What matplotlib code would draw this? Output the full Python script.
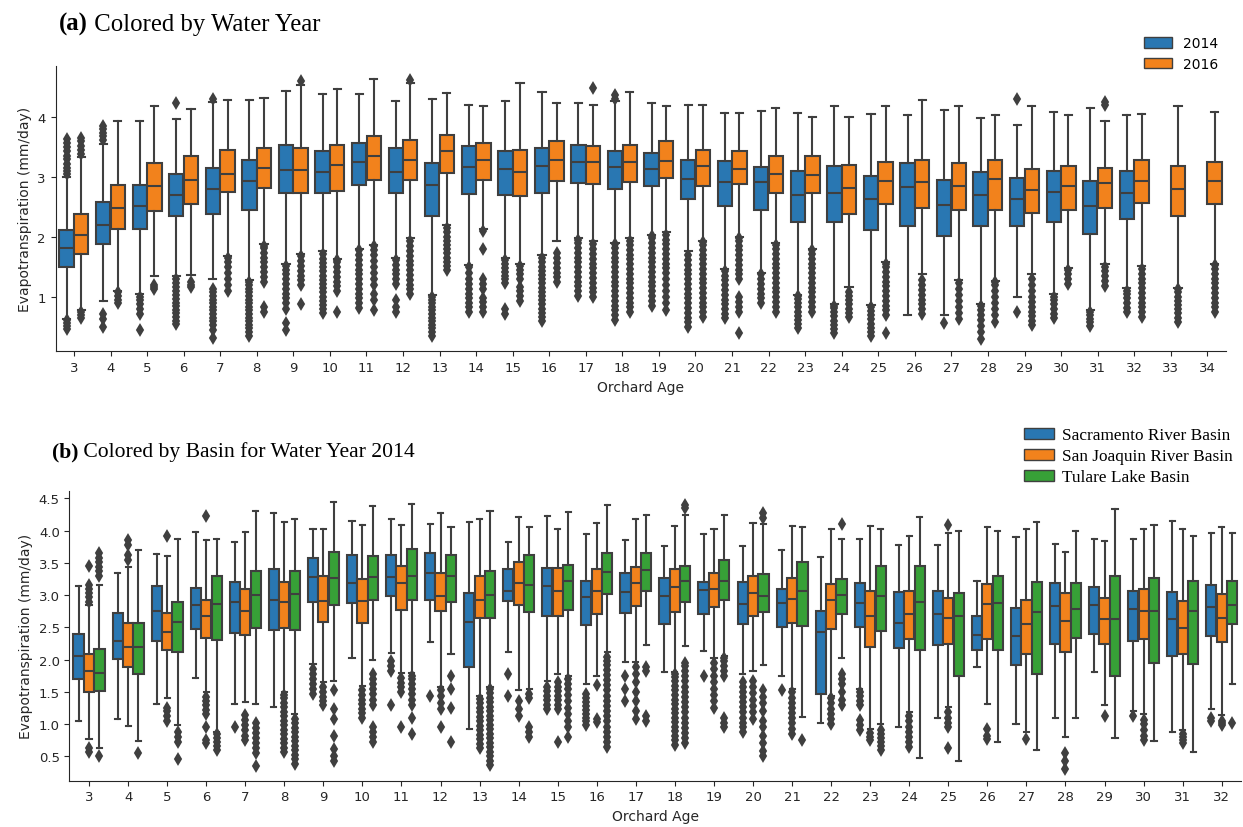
import matplotlib
matplotlib.use("Agg")
import matplotlib.pyplot as plt
from matplotlib.patches import Patch
import numpy as np

# ---------------------------------------------------------------- data
AGES_A = list(range(3, 35))
YEARS = ["2014", "2016"]

# Water year 2014 (ages 3-32, no orchards aged 33-34)
Q1_2014 = [1.51, 1.88, 2.13, 2.35, 2.38, 2.46, 2.73, 2.74, 2.87, 2.73, 2.35, 2.72, 2.70, 2.74, 2.91,
           2.80, 2.85, 2.63, 2.52, 2.46, 2.26, 2.25, 2.12, 2.19, 2.02, 2.19, 2.19, 2.26, 2.05, 2.30, None, None]
MED_2014 = [1.82, 2.20, 2.52, 2.71, 2.81, 2.94, 3.12, 3.09, 3.25, 3.09, 2.87, 3.17, 3.13, 3.18, 3.25,
            3.17, 3.14, 2.97, 2.92, 2.92, 2.71, 2.73, 2.64, 2.83, 2.53, 2.70, 2.64, 2.76, 2.52, 2.74, None, None]
Q3_2014 = [2.12, 2.59, 2.87, 3.06, 3.15, 3.29, 3.54, 3.43, 3.57, 3.48, 3.24, 3.52, 3.43, 3.48, 3.54,
           3.43, 3.40, 3.29, 3.27, 3.17, 3.10, 3.18, 3.02, 3.23, 2.96, 3.08, 2.99, 3.10, 2.94, 3.10, None, None]
WLO_2014 = [0.63, 0.94, 1.05, 1.36, 1.30, 1.28, 1.55, 1.77, 1.81, 1.66, 1.03, 1.54, 1.66, 1.70, 1.99,
            1.90, 2.04, 1.77, 1.47, 1.41, 1.04, 0.89, 0.87, 0.71, 0.71, 0.89, 1.01, 1.06, 0.78, 1.15, None, None]
WHI_2014 = [3.00, 3.55, 3.94, 3.97, 4.25, 4.29, 4.43, 4.39, 4.39, 4.27, 4.30, 4.20, 4.26, 4.41, 4.23,
            4.26, 4.24, 4.20, 4.07, 4.10, 4.07, 4.19, 4.06, 4.04, 4.12, 3.99, 3.87, 4.09, 4.16, 4.04, None, None]
FLIERS_2014 = [
    [0.47, 0.52, 0.57, 0.62, 3.05, 3.1, 3.16, 3.22, 3.3, 3.36, 3.43, 3.5, 3.57, 3.64],
    [0.50, 0.63, 0.72, 3.62, 3.68, 3.74, 3.8, 3.86],
    [0.45, 0.72, 0.8, 0.88, 0.95, 1.0],
    [0.55, 0.61, 0.67, 0.73, 0.79, 0.85, 0.91, 0.97, 1.03, 1.1, 1.17, 1.24, 1.31, 4.23],
    [0.33, 0.46, 0.54, 0.6, 0.66, 0.72, 0.78, 0.84, 0.9, 0.96, 1.02, 1.08, 1.14, 4.3],
    [0.36, 0.42, 0.48, 0.54, 0.6, 0.66, 0.72, 0.78, 0.84, 0.9, 0.96, 1.02, 1.08, 1.14, 1.2, 1.25],
    [0.46, 0.57, 0.8, 0.9, 0.98, 1.06, 1.14, 1.22, 1.3, 1.38, 1.46, 1.52],
    [0.74, 0.8, 0.87, 0.94, 1.01, 1.08, 1.15, 1.22, 1.29, 1.36, 1.43, 1.5, 1.57, 1.64, 1.72],
    [0.82, 0.9, 0.98, 1.06, 1.14, 1.22, 1.3, 1.38, 1.46, 1.54, 1.62, 1.7, 1.78],
    [0.76, 0.84, 0.95, 1.22, 1.3, 1.38, 1.46, 1.54, 1.62],
    [0.36, 0.42, 0.48, 0.54, 0.6, 0.66, 0.72, 0.78, 0.84, 0.9, 0.96, 1.0],
    [0.76, 0.83, 0.9, 0.98, 1.06, 1.14, 1.22, 1.3, 1.4, 1.5],
    [0.72, 0.8, 1.24, 1.3, 1.36, 1.42, 1.48, 1.55, 1.62],
    [0.6, 0.67, 0.74, 0.81, 0.88, 0.95, 1.02, 1.09, 1.16, 1.23, 1.3, 1.37, 1.44, 1.51, 1.58, 1.66],
    [1.02, 1.1, 1.18, 1.26, 1.34, 1.42, 1.5, 1.58, 1.66, 1.74, 1.82, 1.9, 1.96],
    [0.62, 0.7, 0.78, 0.86, 0.94, 1.02, 1.1, 1.18, 1.26, 1.34, 1.42, 1.5, 1.58, 1.66, 1.74, 1.82, 1.88, 4.3, 4.36],
    [0.86, 0.94, 1.02, 1.1, 1.18, 1.26, 1.34, 1.42, 1.5, 1.58, 1.66, 1.74, 1.82, 1.9, 1.98, 2.02],
    [0.5, 0.58, 0.66, 0.74, 0.82, 0.9, 0.98, 1.06, 1.14, 1.22, 1.3, 1.38, 1.46, 1.54, 1.62, 1.7],
    [0.65, 0.72, 0.8, 0.88, 0.96, 1.04, 1.12, 1.2, 1.28, 1.36, 1.44],
    [0.9, 0.98, 1.06, 1.14, 1.22, 1.3, 1.38],
    [0.48, 0.55, 0.62, 0.69, 0.76, 0.83, 0.9, 0.97, 1.02],
    [0.4, 0.47, 0.54, 0.61, 0.68, 0.75, 0.82, 0.86],
    [0.35, 0.42, 0.49, 0.56, 0.63, 0.7, 0.77, 0.84],
    [],
    [0.57],
    [0.3, 0.42, 0.52, 0.62, 0.7, 0.78, 0.85],
    [0.76, 4.3],
    [0.65, 0.72, 0.8, 0.88, 0.95, 1.0],
    [0.52, 0.58, 0.64, 0.7, 0.75],
    [0.75, 0.82, 0.9, 0.98, 1.05, 1.1],
    [], [],
]

# Water year 2016 (ages 3-34)
Q1_2016 = [1.72, 2.13, 2.44, 2.55, 2.76, 2.82, 2.74, 2.77, 2.96, 2.96, 3.07, 2.96, 2.69, 2.94, 2.89, 2.92,
           2.99, 2.85, 2.88, 2.74, 2.73, 2.38, 2.56, 2.49, 2.46, 2.45, 2.41, 2.46, 2.49, 2.57, 2.35, 2.56]
MED_2016 = [2.03, 2.49, 2.85, 2.95, 3.06, 3.15, 3.12, 3.20, 3.36, 3.29, 3.43, 3.29, 3.08, 3.29, 3.25, 3.25,
            3.27, 3.18, 3.14, 3.06, 3.03, 2.82, 2.94, 2.92, 2.85, 2.97, 2.78, 2.85, 2.90, 2.93, 2.81, 2.93]
Q3_2016 = [2.39, 2.87, 3.24, 3.36, 3.46, 3.48, 3.48, 3.54, 3.69, 3.62, 3.71, 3.57, 3.46, 3.61, 3.52, 3.54,
           3.60, 3.46, 3.43, 3.36, 3.36, 3.20, 3.25, 3.29, 3.24, 3.29, 3.13, 3.18, 3.15, 3.29, 3.18, 3.25]
WLO_2016 = [0.78, 1.11, 1.36, 1.37, 1.68, 1.88, 1.72, 1.64, 1.87, 1.99, 2.20, 2.13, 1.56, 1.93, 1.94, 1.98,
            2.09, 1.94, 2.01, 1.90, 1.80, 1.17, 1.58, 1.38, 1.29, 1.27, 1.38, 1.48, 1.55, 1.52, 1.15, 1.56]
WHI_2016 = [3.34, 3.94, 4.18, 4.13, 4.29, 4.31, 4.54, 4.47, 4.64, 4.56, 4.40, 4.18, 4.56, 4.23, 4.20, 4.41,
            4.18, 4.20, 4.07, 4.15, 4.01, 4.01, 4.18, 4.29, 4.18, 4.04, 4.18, 4.04, 3.93, 4.06, 4.19, 4.09]
FLIERS_2016 = [
    [0.65, 0.7, 0.75, 3.38, 3.45, 3.52, 3.6, 3.65],
    [0.9, 0.96, 1.02, 1.08],
    [1.13, 1.17, 1.21],
    [1.17, 1.21, 1.25],
    [1.1, 1.2, 1.3, 1.4, 1.5, 1.58, 1.65],
    [0.76, 0.84, 1.26, 1.34, 1.42, 1.5, 1.58, 1.66, 1.74, 1.82, 1.86],
    [0.88, 1.2, 1.28, 1.36, 1.44, 1.52, 1.6, 1.68, 4.6],
    [0.75, 1.1, 1.18, 1.26, 1.34, 1.42, 1.5, 1.58, 1.62],
    [0.78, 0.95, 1.05, 1.2, 1.3, 1.4, 1.5, 1.6, 1.7, 1.78, 1.85],
    [1.05, 1.13, 1.21, 1.29, 1.37, 1.45, 1.53, 1.61, 1.69, 1.77, 1.85, 1.93, 4.61],
    [1.45, 1.52, 1.59, 1.66, 1.73, 1.8, 1.87, 1.94, 2.01, 2.08, 2.15],
    [0.76, 0.84, 0.92, 0.98, 1.14, 1.22, 1.3, 1.81, 2.1],
    [0.94, 1.02, 1.1, 1.17, 1.3, 1.38, 1.46, 1.52],
    [1.25, 1.33, 1.41, 1.49, 1.57, 1.65, 1.73],
    [1.0, 1.08, 1.16, 1.24, 1.32, 1.4, 1.48, 1.56, 1.64, 1.72, 1.8, 1.88, 4.48],
    [0.75, 0.83, 0.91, 0.99, 1.07, 1.15, 1.23, 1.31, 1.39, 1.47, 1.55, 1.63, 1.71, 1.79, 1.87, 1.94],
    [0.78, 0.9, 1.0, 1.1, 1.2, 1.3, 1.4, 1.48, 1.56, 1.64, 1.72, 1.8, 1.88, 1.96, 2.04],
    [0.67, 0.75, 0.83, 0.91, 0.99, 1.07, 1.15, 1.23, 1.31, 1.39, 1.47, 1.55, 1.63, 1.71, 1.79, 1.87, 1.92],
    [0.4, 0.76, 0.84, 0.92, 1.0, 1.3, 1.38, 1.46, 1.54, 1.62, 1.7, 1.78, 1.86, 1.94, 1.99],
    [0.76, 0.84, 0.92, 1.0, 1.08, 1.16, 1.24, 1.32, 1.4, 1.48, 1.56, 1.64, 1.72, 1.8, 1.87],
    [0.76, 0.84, 0.92, 1.0, 1.08, 1.16, 1.24, 1.32, 1.4, 1.48, 1.56, 1.64, 1.72, 1.78],
    [0.67, 0.74, 0.81, 0.88, 0.95, 1.02, 1.08],
    [0.41, 0.7, 0.78, 0.86, 0.94, 1.02, 1.1, 1.18, 1.26, 1.34, 1.42, 1.5, 1.56],
    [0.72, 0.8, 0.88, 0.96, 1.04, 1.12, 1.2, 1.28],
    [0.64, 0.74, 0.84, 0.94, 1.04, 1.14, 1.24],
    [0.59, 0.7, 0.8, 0.9, 1.0, 1.1, 1.2, 1.26],
    [0.53, 0.6, 0.68, 0.76, 0.84, 0.92, 1.0, 1.1, 1.2, 1.3],
    [1.22, 1.3, 1.38, 1.45],
    [1.19, 1.27, 1.35, 1.43, 1.5, 4.2, 4.25],
    [0.67, 0.75, 0.83, 0.91, 0.99, 1.07, 1.15, 1.23, 1.31, 1.39, 1.47],
    [0.59, 0.66, 0.73, 0.8, 0.87, 0.94, 1.01, 1.08, 1.13],
    [0.75, 0.83, 0.91, 0.99, 1.07, 1.15, 1.23, 1.31, 1.39, 1.47, 1.54],
]

AGES_B = list(range(3, 33))
BASINS = ["Sacramento River Basin", "San Joaquin River Basin", "Tulare Lake Basin"]

Q1_SAC = [1.70, 2.01, 2.29, 2.47, 2.41, 2.46, 2.89, 2.88, 2.98, 2.93, 1.88, 2.91, 2.68, 2.53, 2.72,
          2.55, 2.71, 2.55, 2.50, 1.47, 2.50, 2.18, 2.22, 2.15, 1.91, 2.24, 2.39, 2.28, 2.05, 2.36]
MED_SAC = [2.05, 2.28, 2.76, 2.85, 2.89, 2.93, 3.28, 3.18, 3.28, 3.34, 2.58, 3.07, 3.14, 2.97, 3.05,
           2.98, 3.08, 2.86, 2.87, 2.42, 2.87, 2.56, 2.70, 2.38, 2.36, 2.83, 2.85, 2.78, 2.63, 2.82]
Q3_SAC = [2.39, 2.72, 3.14, 3.11, 3.20, 3.40, 3.57, 3.62, 3.62, 3.65, 3.04, 3.40, 3.42, 3.22, 3.35,
          3.26, 3.20, 3.20, 3.09, 2.76, 3.19, 3.05, 3.07, 2.67, 2.80, 3.18, 3.13, 3.07, 3.05, 3.16]
WLO_SAC = [1.04, 1.08, 1.31, 1.72, 1.31, 1.26, 1.93, 2.02, 2.10, 2.27, 0.92, 2.11, 1.66, 1.62, 1.96,
           1.81, 2.13, 1.78, 1.74, 1.01, 1.54, 0.96, 1.10, 1.88, 1.00, 1.09, 1.80, 1.20, 0.87, 1.24]
WHI_SAC = [3.14, 3.34, 3.63, 3.98, 3.83, 4.28, 4.02, 4.15, 4.18, 4.10, 4.14, 3.83, 4.23, 3.94, 3.85,
           3.76, 3.94, 3.76, 3.70, 3.59, 3.87, 3.77, 3.77, 3.22, 3.90, 3.80, 3.87, 3.87, 4.15, 3.96]
FLIERS_SAC = [
    [], [], [], [], [0.95], [],
    [1.46, 1.54, 1.62, 1.7, 1.78, 1.86],
    [],
    [1.3, 1.82, 1.9, 1.98],
    [1.44],
    [],
    [1.44, 1.78],
    [1.23, 1.3, 1.37, 1.44, 1.51, 1.58],
    [0.98, 1.04, 1.1, 1.16, 1.22, 1.28, 1.34, 1.4, 1.46],
    [1.36, 1.54, 1.75],
    [],
    [1.75],
    [0.88, 0.95, 1.02, 1.1, 1.18, 1.26, 1.34, 1.42, 1.5, 1.58, 1.65],
    [1.53],
    [],
    [0.9, 0.98, 1.06, 1.29, 1.36, 1.43, 1.5],
    [], [], [], [], [], [],
    [1.12],
    [],
    [1.05, 1.1],
]

Q1_SJ = [1.49, 1.89, 2.15, 2.33, 2.38, 2.49, 2.59, 2.57, 2.77, 2.76, 2.65, 2.85, 2.68, 2.71, 2.83,
         2.74, 2.81, 2.67, 2.56, 2.47, 2.20, 2.32, 2.24, 2.32, 2.09, 2.11, 2.24, 2.32, 2.09, 2.27]
MED_SJ = [1.82, 2.20, 2.42, 2.67, 2.76, 2.89, 2.91, 2.91, 3.18, 2.98, 2.93, 3.19, 3.07, 3.07, 3.19,
          3.13, 3.09, 3.03, 2.94, 2.93, 2.67, 2.70, 2.64, 2.86, 2.55, 2.60, 2.63, 2.76, 2.49, 2.64]
Q3_SJ = [2.08, 2.56, 2.72, 2.93, 3.09, 3.21, 3.29, 3.25, 3.45, 3.35, 3.29, 3.51, 3.42, 3.40, 3.44,
         3.41, 3.34, 3.29, 3.26, 3.17, 3.06, 3.07, 2.95, 3.17, 2.93, 3.04, 2.95, 3.09, 2.91, 3.01]
WLO_SJ = [0.76, 0.97, 1.40, 1.49, 1.34, 1.50, 1.65, 1.59, 1.79, 1.57, 1.44, 1.53, 1.78, 1.75, 1.96,
          1.80, 2.02, 1.82, 1.54, 1.44, 0.92, 1.19, 1.26, 1.31, 0.87, 0.80, 1.30, 1.16, 0.90, 1.14]
WHI_SJ = [2.85, 3.43, 3.60, 3.85, 3.98, 4.13, 4.02, 4.09, 4.08, 4.27, 4.18, 4.21, 4.03, 4.12, 4.18,
          4.07, 4.02, 4.12, 4.07, 4.02, 4.07, 3.92, 3.96, 4.05, 4.02, 3.67, 3.84, 4.03, 4.03, 4.05]
FLIERS_SJ = [
    [0.57, 0.62, 2.9, 2.97, 3.04, 3.1, 3.16, 3.45],
    [3.55, 3.62, 3.78, 3.85],
    [1.05, 1.12, 1.2, 1.25, 3.92],
    [0.7, 0.75, 0.95, 1.15, 1.22, 1.29, 1.36, 1.42, 4.22],
    [0.75, 0.82, 0.9, 0.98, 1.06, 1.14],
    [0.56, 0.63, 0.7, 0.77, 0.84, 0.91, 0.98, 1.05, 1.12, 1.19, 1.26, 1.33, 1.4, 1.45],
    [1.3, 1.36, 1.42, 1.5, 1.58],
    [1.1, 1.17, 1.24, 1.31, 1.38, 1.45, 1.52],
    [0.95, 1.5, 1.57, 1.64, 1.71],
    [0.95, 1.23, 1.33, 1.43, 1.52],
    [0.62, 0.69, 0.76, 0.83, 0.9, 0.97, 1.04, 1.11, 1.18, 1.25, 1.32, 1.39],
    [1.12, 1.23, 1.36],
    [0.72, 1.23, 1.3, 1.37, 1.44, 1.51, 1.58, 1.65],
    [1.03, 1.08, 1.6],
    [1.08, 1.2, 1.35, 1.5, 1.65, 1.78, 1.88],
    [0.68, 0.75, 0.82, 0.89, 0.96, 1.03, 1.1, 1.17, 1.24, 1.31, 1.38, 1.45, 1.52, 1.59, 1.66, 1.73, 1.78],
    [1.25, 1.35, 1.45, 1.55, 1.65, 1.75, 1.85, 1.95],
    [1.08, 1.18, 1.28, 1.38, 1.48, 1.58, 1.67],
    [0.85, 0.93, 1.01, 1.09, 1.17, 1.25, 1.33, 1.41, 1.49],
    [1.0, 1.08, 1.16, 1.24, 1.32, 1.4],
    [0.75, 0.8, 0.86],
    [0.65, 0.72, 0.8, 0.88, 0.96, 1.04, 1.12],
    [0.62, 0.95, 1.02, 1.1, 1.18, 4.08],
    [0.76, 0.82, 0.92],
    [0.77],
    [0.3, 0.42, 0.55],
    [1.13],
    [0.75, 0.82, 0.9, 1.0, 1.06],
    [0.7, 0.75, 0.8, 0.85],
    [0.98, 1.02, 1.05],
]

Q1_TUL = [1.51, 1.78, 2.11, 2.31, 2.49, 2.46, 2.85, 2.93, 2.93, 2.90, 2.64, 2.74, 2.77, 3.02, 3.07,
          2.90, 2.93, 2.73, 2.52, 2.71, 2.45, 2.15, 1.74, 2.15, 1.78, 2.33, 1.75, 1.95, 1.93, 2.55]
MED_TUL = [1.79, 2.19, 2.59, 2.86, 3.00, 3.02, 3.26, 3.28, 3.29, 3.29, 3.00, 3.16, 3.22, 3.36, 3.39,
           3.22, 3.22, 2.98, 3.07, 3.00, 2.98, 2.90, 2.67, 2.87, 2.73, 2.79, 2.63, 2.76, 2.76, 2.85]
Q3_TUL = [2.17, 2.57, 2.90, 3.29, 3.38, 3.38, 3.67, 3.60, 3.71, 3.62, 3.38, 3.62, 3.47, 3.65, 3.65,
          3.45, 3.54, 3.33, 3.51, 3.25, 3.45, 3.45, 3.04, 3.29, 3.20, 3.18, 3.29, 3.26, 3.22, 3.22]
WLO_TUL = [0.63, 0.73, 0.98, 0.87, 1.31, 1.16, 1.67, 1.99, 1.79, 2.08, 1.58, 1.55, 1.75, 2.12, 2.23,
           2.21, 2.06, 1.91, 1.11, 2.03, 1.00, 0.48, 0.43, 0.72, 0.60, 1.09, 0.78, 0.73, 0.56, 1.62]
WHI_TUL = [3.16, 3.70, 3.87, 3.87, 4.31, 4.18, 4.44, 4.38, 4.41, 4.05, 4.31, 4.05, 4.29, 4.40, 4.25,
           4.24, 4.25, 4.10, 4.06, 3.87, 4.02, 4.21, 4.00, 4.00, 4.13, 4.00, 4.33, 4.09, 3.92, 3.96]
FLIERS_TUL = [
    [0.5, 3.3, 3.37, 3.44, 3.51, 3.58, 3.65],
    [0.55],
    [0.45, 0.72, 0.8, 0.88],
    [0.6, 0.66, 0.72, 0.78, 0.84],
    [0.35, 0.55, 0.62, 0.7, 0.78, 0.86, 0.94, 1.02],
    [0.38, 0.45, 0.52, 0.59, 0.66, 0.73, 0.8, 0.87, 0.94, 1.01, 1.08],
    [0.43, 0.51, 0.61, 0.82, 1.08, 1.23, 1.52],
    [0.72, 0.8, 0.88, 0.96, 1.3, 1.38, 1.46, 1.54, 1.62, 1.7, 1.78],
    [0.85, 1.1, 1.3, 1.38, 1.46, 1.54, 1.62, 1.7, 1.75],
    [0.72, 1.25, 1.55, 1.75],
    [0.36, 0.43, 0.5, 0.57, 0.64, 0.71, 0.78, 0.85, 0.92, 0.99, 1.06, 1.13, 1.2, 1.27, 1.34, 1.41, 1.48, 1.55],
    [0.8, 0.87, 0.95, 1.4, 1.47],
    [0.8, 0.95, 1.05, 1.15, 1.25, 1.35, 1.45, 1.55, 1.62, 1.7],
    [0.64, 0.72, 0.8, 0.88, 0.96, 1.04, 1.12, 1.2, 1.28, 1.36, 1.44, 1.52, 1.6, 1.68, 1.76, 1.84, 1.92, 1.98, 2.04],
    [1.05, 1.12, 1.82, 1.88],
    [0.7, 0.78, 0.86, 0.94, 1.02, 1.1, 1.18, 1.26, 1.34, 1.42, 1.5, 1.58, 1.66, 1.74, 1.82, 1.9, 1.95, 4.35, 4.4],
    [0.95, 1.02, 1.1, 1.75, 1.82, 1.9, 1.98, 2.03],
    [0.5, 0.58, 0.7, 0.82, 0.95, 1.05, 1.2, 1.32, 1.42, 1.52, 4.2, 4.27],
    [0.75],
    [1.3, 1.38, 1.5, 1.62, 1.7, 1.78, 4.1],
    [0.6, 0.66, 0.72, 0.78, 0.84, 0.9],
    [], [], [], [], [], [], [], [],
    [1.02],
]

# ---------------------------------------------------------------- style
COLORS = ["#2977b2", "#f2821c", "#37a037"]
GRAY = "#3f3f3f"
LW = 1.5
TEXT = "#262626"
SERIF = ["Liberation Serif", "DejaVu Serif"]

plt.rcParams.update({
    "font.family": ["DejaVu Sans"],
    "font.size": 10,
    "axes.edgecolor": TEXT,
    "axes.labelcolor": TEXT,
    "xtick.color": TEXT,
    "ytick.color": TEXT,
})


def box_stats(q1, med, q3, lo, hi, fliers):
    idx, stats = [], []
    for i, (a, m, b, w0, w1, f) in enumerate(zip(q1, med, q3, lo, hi, fliers)):
        if a is None:
            continue
        idx.append(i)
        stats.append(dict(q1=a, med=m, q3=b, whislo=w0, whishi=w1,
                          fliers=np.asarray(f, dtype=float)))
    return idx, stats


def draw_hue(ax, series, color, offset, width):
    idx, stats = box_stats(*series)
    pos = [i + offset for i in idx]
    ax.bxp(stats, positions=pos, widths=width, patch_artist=True,
           manage_ticks=False, showfliers=True,
           boxprops=dict(facecolor=color, edgecolor=GRAY, linewidth=LW),
           whiskerprops=dict(color=GRAY, linewidth=LW),
           capprops=dict(color=GRAY, linewidth=LW),
           medianprops=dict(color=GRAY, linewidth=LW),
           flierprops=dict(marker="d", markerfacecolor=GRAY,
                           markeredgecolor=GRAY, markersize=5.5,
                           markeredgewidth=1.4, linestyle="none"))


def finish_axes(ax, ages, ylim, yticks, yticklabels=None):
    ax.set_xlim(-0.5, len(ages) - 0.5)
    ax.set_xticks(range(len(ages)))
    ax.set_xticklabels([str(a) for a in ages])
    ax.set_ylim(*ylim)
    ax.set_yticks(yticks)
    if yticklabels is not None:
        ax.set_yticklabels(yticklabels)
    ax.set_xlabel("Orchard Age")
    ax.set_ylabel("Evapotranspiration (mm/day)")
    for s in ("top", "right"):
        ax.spines[s].set_visible(False)
    ax.tick_params(labelsize=9.5)


fig = plt.figure(figsize=(12.43, 8.28), dpi=100)

# ---------------------------------------------------------------- panel (a)
ax_a = fig.add_axes([0.0448, 0.5745, 0.9412, 0.3445])
series_a = [
    (Q1_2014, MED_2014, Q3_2014, WLO_2014, WHI_2014, FLIERS_2014),
    (Q1_2016, MED_2016, Q3_2016, WLO_2016, WHI_2016, FLIERS_2016),
]
each = 0.8 / len(series_a)
for k, ser in enumerate(series_a):
    off = -0.4 + each / 2 + k * each
    draw_hue(ax_a, ser, COLORS[k], off, each * 0.98)
finish_axes(ax_a, AGES_A, (0.1, 4.85), [1, 2, 3, 4])

handles_a = [Patch(facecolor=COLORS[k], edgecolor=GRAY, linewidth=1.0) for k in range(2)]
fig.legend(handles_a, YEARS, loc="upper right", bbox_to_anchor=(0.990, 0.970),
           frameon=False, fontsize=10, handlelength=2.0, handleheight=0.75,
           labelspacing=0.45)

# ---------------------------------------------------------------- panel (b)
ax_b = fig.add_axes([0.0559, 0.0559, 0.9427, 0.3503])
series_b = [
    (Q1_SAC, MED_SAC, Q3_SAC, WLO_SAC, WHI_SAC, FLIERS_SAC),
    (Q1_SJ, MED_SJ, Q3_SJ, WLO_SJ, WHI_SJ, FLIERS_SJ),
    (Q1_TUL, MED_TUL, Q3_TUL, WLO_TUL, WHI_TUL, FLIERS_TUL),
]
each = 0.8 / len(series_b)
for k, ser in enumerate(series_b):
    off = -0.4 + each / 2 + k * each
    draw_hue(ax_b, ser, COLORS[k], off, each * 0.98)
yt = [0.5, 1.0, 1.5, 2.0, 2.5, 3.0, 3.5, 4.0, 4.5]
finish_axes(ax_b, AGES_B, (0.12, 4.62), yt, [f"{v:.1f}" for v in yt])

handles_b = [Patch(facecolor=COLORS[k], edgecolor=GRAY, linewidth=1.0) for k in range(3)]
fig.legend(handles_b, BASINS, loc="upper right", bbox_to_anchor=(1.0015, 0.4975),
           frameon=False, prop={"family": SERIF, "size": 12.4},
           handlelength=1.75, handleheight=0.6, labelspacing=0.3,
           handletextpad=0.45, borderpad=0.2)

# ---------------------------------------------------------------- titles
def panel_title(x, y, tag, text, size):
    t = fig.text(x, y, tag, fontfamily=SERIF, fontweight="bold",
                 fontsize=size, va="baseline", ha="left", color="black")
    fig.canvas.draw()
    bb = t.get_window_extent(fig.canvas.get_renderer())
    fig.text(bb.x1 / fig.bbox.width, y, " " + text, fontfamily=SERIF,
             fontsize=size, va="baseline", ha="left", color="black")


panel_title(59 / 1243, 1 - 30.5 / 828, "(a)", "Colored by Water Year", 17.8)
panel_title(52 / 1243, 1 - 457.5 / 828, "(b)", "Colored by Basin for Water Year 2014", 15.6)

fig.savefig("out.png", dpi=100)
